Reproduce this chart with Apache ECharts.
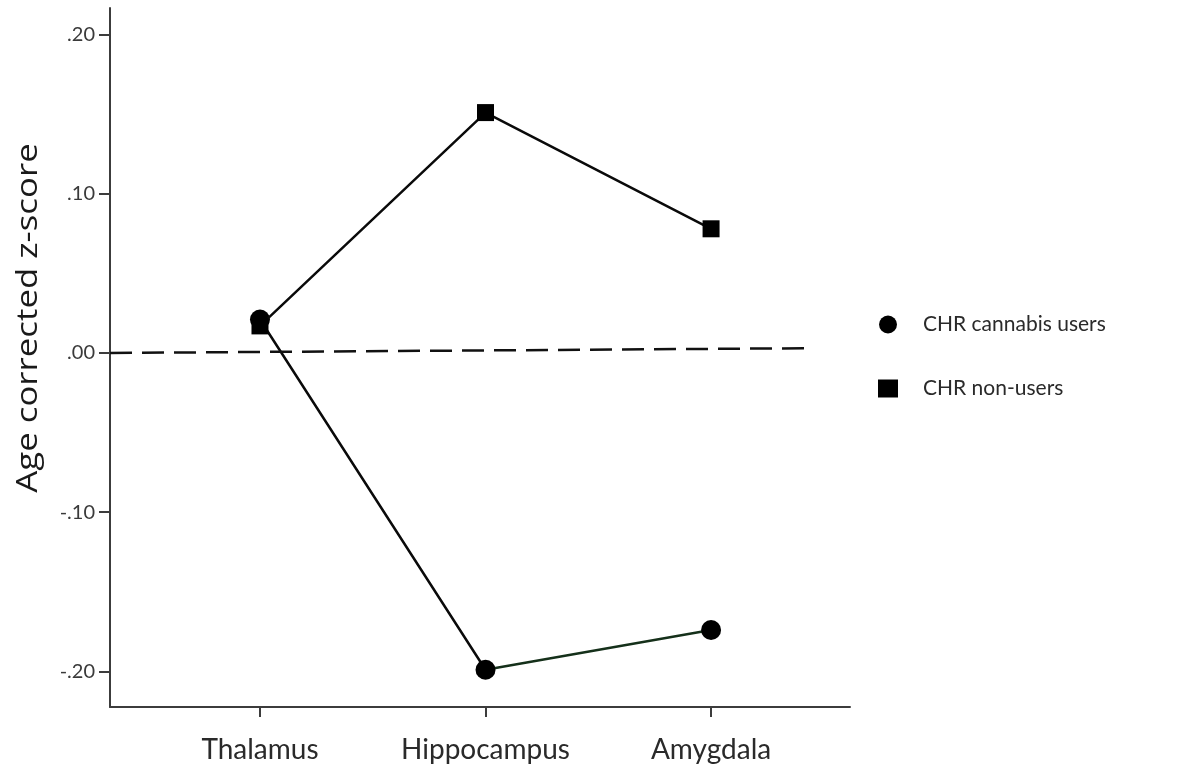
<!DOCTYPE html>
<html>
<head>
<meta charset="utf-8">
<script src="https://cdn.jsdelivr.net/npm/echarts@6/dist/echarts.min.js"></script>
<style>
html,body{margin:0;padding:0;background:#fff;}
#chart{width:1180px;height:768px;}
</style>
</head>
<body>
<div id="chart"></div>
<script>
const categories = ['Thalamus', 'Hippocampus', 'Amygdala'];
const cannabisUsers = [0.021, -0.199, -0.174];
const nonUsers = [0.017, 0.151, 0.078];
const yTickValues = [-0.2, -0.1, 0, 0.1, 0.2];
const seriesNames = ['CHR cannabis users', 'CHR non-users'];
const refLine = [[-0.665, 0], [2.44, 0.003]];

const catIdx = categories.map((c, i) => i);
const toPairs = arr => arr.map((v, i) => [catIdx[i], v]);

function fmtY(v) {
  const s = Math.abs(v).toFixed(2).replace(/^0/, '');
  return (v < -1e-9 ? '-' : '') + s;
}

const chart = echarts.init(document.getElementById('chart'), null, {renderer: 'canvas'});
const axisColor = '#3c3c3c';
chart.setOption({
  animation: false,
  backgroundColor: '#ffffff',
  grid: {left: 110, top: 8, right: 330, bottom: 61, containLabel: false},
  xAxis: {
    type: 'value',
    min: -0.665,
    max: 2.616,
    splitLine: {show: false},
    axisLine: {show: true, onZero: false, lineStyle: {color: axisColor, width: 2}},
    axisTick: {show: true, customValues: catIdx, length: 10, lineStyle: {color: axisColor, width: 2}},
    axisLabel: {
      customValues: catIdx,
      formatter: v => categories[Math.round(v)] || '',
      margin: 29,
      fontFamily: 'Lato',
      fontSize: 28,
      color: '#2a2a2a'
    }
  },
  yAxis: {
    type: 'value',
    min: -0.2224,
    max: 0.2167,
    splitLine: {show: false},
    axisLine: {show: true, onZero: false, lineStyle: {color: axisColor, width: 2}},
    axisTick: {show: true, customValues: yTickValues, length: 11, lineStyle: {color: axisColor, width: 2}},
    axisLabel: {
      customValues: yTickValues,
      formatter: fmtY,
      margin: 15,
      fontFamily: 'Lato',
      fontSize: 20,
      color: '#3a3a3a'
    }
  },
  legend: {
    orient: 'vertical',
    left: 873,
    top: 309,
    itemWidth: 20,
    itemHeight: 18,
    itemGap: 43,
    textStyle: {fontFamily: 'Lato', fontSize: 21, color: '#2a2a2a', padding: [0, 0, 0, 20]},
    data: [
      {name: seriesNames[0], icon: 'circle'},
      {name: seriesNames[1], icon: 'rect'}
    ]
  },
  graphic: [{
    type: 'text',
    x: 28,
    y: 318,
    rotation: Math.PI / 2,
    scaleX: 1.16,
    style: {
      text: 'Age corrected z-score',
      fontFamily: 'Open Sans',
      fontSize: 30,
      fill: '#1a1a1a',
      textAlign: 'center',
      textVerticalAlign: 'middle'
    }
  }],
  series: [
    {
      name: seriesNames[0],
      type: 'line',
      data: toPairs(cannabisUsers),
      symbol: 'circle',
      symbolSize: 20,
      itemStyle: {color: '#000'},
      lineStyle: {
        width: 2.5,
        color: {
          type: 'linear', x: 0, y: 0, x2: 1, y2: 0,
          colorStops: [
            {offset: 0, color: '#0a0a0a'},
            {offset: 0.5, color: '#0a0a0a'},
            {offset: 0.5, color: '#15301a'},
            {offset: 1, color: '#15301a'}
          ]
        }
      },
      z: 3,
      markLine: {
        silent: true,
        symbol: 'none',
        label: {show: false},
        lineStyle: {color: '#111', width: 2.5, type: [22, 10]},
        data: [[{coord: refLine[0]}, {coord: refLine[1]}]]
      }
    },
    {
      name: seriesNames[1],
      type: 'line',
      data: toPairs(nonUsers),
      symbol: 'rect',
      symbolSize: 17,
      itemStyle: {color: '#000'},
      lineStyle: {width: 2.5, color: '#0a0a0a'},
      z: 4
    }
  ]
});
</script>
</body>
</html>
